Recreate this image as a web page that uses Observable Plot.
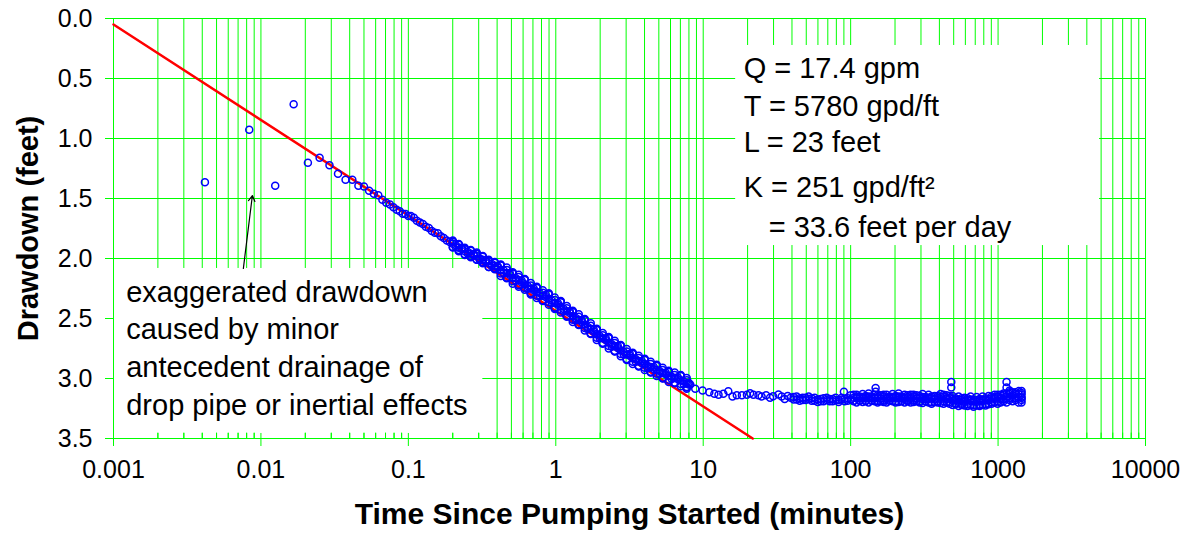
<!DOCTYPE html>
<html><head><meta charset="utf-8">
<script src="https://cdn.jsdelivr.net/npm/d3@7"></script>
<script src="https://cdn.jsdelivr.net/npm/@observablehq/plot@0.6"></script>
<style>body{margin:0;background:#fff;}</style>
</head><body><div id="chart"></div>
<script>
// ---- axis ticks ----
const xTicks = [0.001, 0.01, 0.1, 1, 10, 100, 1000, 10000];
const xTickLabels = ["0.001", "0.01", "0.1", "1", "10", "100", "1000", "10000"];
const yTicks = [0, 0.5, 1, 1.5, 2, 2.5, 3, 3.5];
const yTickLabels = ["0.0", "0.5", "1.0", "1.5", "2.0", "2.5", "3.0", "3.5"];
const gridDecades = [0.001, 0.01, 0.1, 1, 10, 100, 1000];
const gridMultipliers = [1, 2, 3, 4, 5, 6, 7, 8, 9];

// ---- observed drawdown data (minutes, feet) ----
const timeEarly = [0.00417,0.00833,0.0125,0.01667,0.02083,0.025,0.02917,0.03333,0.0375,0.04167,0.04583,0.05,0.05417,0.05833,0.0625,0.06667,0.07083,0.075,0.07917,0.08333,0.0875,0.09167,0.09583,0.1];
const drawEarly = [1.365,0.928,1.394,0.714,1.203,1.161,1.222,1.294,1.344,1.344,1.394,1.400,1.436,1.461,1.472,1.510,1.536,1.550,1.572,1.594,1.606,1.628,1.630,1.645];

const timeBand = [0.1040,0.1090,0.1142,0.1197,0.1254,0.1314,0.1377,0.1443,0.1512,0.1585,0.1661,0.1740,0.1824,0.1911,0.2002,0.2098,0.2199,0.2304,0.2415,0.2530,0.2651,0.2778,0.2911,0.3051,0.3197,0.3350,0.3511,0.3679,0.3855,0.4040,0.4234,0.4437,0.4650,0.4872,0.5106,0.5351,0.5607,0.5876,0.6158,0.6453,0.6768,0.7091,0.7434,0.7790,0.8163,0.8553,0.8963,0.9394,0.9845,1.0317,1.0811,1.1330,1.1873,1.2442,1.3038,1.3663,1.4318,1.5004,1.5723,1.6477,1.7267,1.8094,1.8961,1.9870,2.0822,2.1820,2.2866,2.3962,2.5119,2.6323,2.7584,2.8906,3.0292,3.1744,3.3265,3.4860,3.6530,3.8281,4.0116,4.2038,4.4053,4.6164,4.8376,5.0694,5.3124,5.5670,5.8337,6.1133,6.4063,6.7133,7.0350,7.3722,7.7255,7.975];
const drawBand = [1.645,1.66,1.685,1.70,1.712,1.735,1.745,1.77,1.785,1.79,1.815,1.83,1.85,1.862,1.878,1.89,1.91,1.92,1.94,1.945,1.96,1.975,1.98,2.0,2.01,2.025,2.04,2.045,2.06,2.075,2.094,2.10,2.12,2.135,2.16,2.165,2.18,2.20,2.215,2.23,2.25,2.265,2.28,2.29,2.31,2.32,2.335,2.35,2.37,2.385,2.40,2.42,2.44,2.455,2.48,2.495,2.51,2.53,2.55,2.57,2.585,2.61,2.63,2.645,2.665,2.68,2.70,2.715,2.73,2.745,2.765,2.78,2.80,2.81,2.83,2.84,2.855,2.87,2.88,2.895,2.905,2.92,2.93,2.94,2.955,2.965,2.98,2.985,2.995,3.005,3.015,3.025,3.04,3.05];

const timeBand2 = [0.2002,0.2199,0.2415,0.2651,0.2911,0.3197,0.3511,0.3855,0.4234,0.4650,0.5106,0.5607,0.6158,0.6768,0.7434,0.8163,0.8963,0.9845,1.0811,1.1873,1.3038,1.4318,1.5723,1.7267,1.8961,2.0822,2.2866,2.5119,2.7584,3.0292,3.3265,3.6530,4.0116,4.4053,4.8376,5.3124,5.8337,6.4063,7.0350,7.7255];
const drawBand2 = [1.908,1.885,1.97,1.935,2.01,1.985,2.07,2.035,2.124,2.095,2.19,2.155,2.245,2.225,2.31,2.285,2.365,2.345,2.43,2.415,2.51,2.485,2.58,2.56,2.66,2.64,2.73,2.705,2.795,2.775,2.86,2.83,2.91,2.88,2.96,2.93,3.01,2.97,3.045,3.015];
const drawBand4 = [1.86,1.93,1.92,1.98,1.96,2.03,2.02,2.08,2.054,2.16,2.12,2.22,2.175,2.29,2.24,2.35,2.295,2.41,2.36,2.48,2.44,2.55,2.51,2.625,2.59,2.705,2.66,2.77,2.725,2.84,2.79,2.895,2.84,2.945,2.89,2.995,2.94,3.035,2.975,3.075];
const drawBand5 = [1.905,1.94,1.965,1.99,2.01,2.04,2.07,2.09,2.145,2.165,2.21,2.235,2.26,2.30,2.33,2.355,2.385,2.42,2.45,2.485,2.53,2.555,2.60,2.63,2.68,2.71,2.75,2.775,2.815,2.845,2.88,2.90,2.93,2.95,2.98,3.0,3.03,3.04,3.065,3.085];
const drawBand6 = [1.85,1.88,1.91,1.93,1.95,1.98,2.01,2.03,2.05,2.075,2.115,2.135,2.17,2.205,2.235,2.265,2.29,2.325,2.355,2.395,2.435,2.465,2.505,2.54,2.585,2.62,2.655,2.685,2.72,2.755,2.785,2.81,2.835,2.86,2.885,2.91,2.935,2.95,2.97,2.995];

const timeBand3 = [0.2002,0.2098,0.2199,0.2304,0.2415,0.2530,0.2651,0.2778,0.2911,0.3051,0.3197,0.3350,0.3511,0.3679,0.3855,0.4040,0.4234,0.4437,0.4650,0.4872,0.5106,0.5351,0.5607,0.5876,0.6158,0.6453,0.6768,0.7091,0.7434,0.7790,0.8163,0.8553,0.8963,0.9394,0.9845,1.0317,1.0811,1.1330,1.1873,1.2442,1.3038,1.3663,1.4318,1.5004,1.5723,1.6477,1.7267,1.8094,1.8961,1.9870,2.0822,2.1820,2.2866,2.3962,2.5119,2.6323,2.7584,2.8906,3.0292,3.1744,3.3265,3.4860,3.6530,3.8281,4.0116,4.2038,4.4053,4.6164,4.8376,5.0694,5.3124,5.5670,5.8337,6.1133,6.4063,6.7133,7.0350,7.3722,7.7255,7.975];
const drawBand3 = [1.858,1.905,1.935,1.91,1.92,1.96,1.985,1.965,1.96,2.015,2.035,2.015,2.02,2.06,2.085,2.065,2.059,2.12,2.16,2.12,2.125,2.185,2.22,2.185,2.18,2.25,2.29,2.25,2.245,2.31,2.35,2.305,2.30,2.37,2.41,2.37,2.365,2.44,2.48,2.44,2.445,2.515,2.55,2.515,2.515,2.59,2.625,2.595,2.595,2.665,2.705,2.665,2.665,2.735,2.77,2.73,2.73,2.80,2.84,2.795,2.795,2.86,2.895,2.855,2.845,2.915,2.945,2.905,2.895,2.96,2.995,2.95,2.945,3.005,3.035,2.99,2.98,3.045,3.07,3.035];

const timeTail = [8.17,8.83,9.9,11.0,11.9,12.7,13.7,14.8,15.8,16.9,18.3,19.8,20.8,21.9,23.7,24.9,26.7,28.4,29.8,32.4,34.06,35.69,37.40,39.19,41.07,43.04,45.10,47.27,49.53,51.91,54.39,57.00,59.74,62.60,65.60,68.75,72.04,75.51,79.12,82.91,86.90,91.07,95.43,100];
const drawTail = [3.05,3.086,3.10,3.114,3.128,3.136,3.128,3.106,3.15,3.14,3.14,3.136,3.122,3.136,3.14,3.15,3.14,3.16,3.147,3.133,3.15,3.17,3.145,3.16,3.175,3.15,3.165,3.18,3.16,3.17,3.185,3.16,3.175,3.19,3.165,3.18,3.17,3.19,3.16,3.18,3.175,3.19,3.165,3.14];
const timeTail2 = [41.07,43.04,45.10,47.27,49.53,51.91,54.39,57.00,59.74,62.60,65.60,68.75,72.04,75.51,79.12,82.91,86.90,91.07,95.43,100];
const drawTail2 = [3.155,3.175,3.185,3.16,3.18,3.15,3.165,3.185,3.195,3.17,3.19,3.16,3.19,3.17,3.18,3.195,3.16,3.17,3.185,3.175];

const timeLate = [104.8,109.8,115.1,120.6,126.4,132.4,138.8,145.5,152.4,159.7,167.4,175.4,183.8,192.6,201.9,211.5,221.7,232.3,243.4,255.1,267.3,280.2,293.6,307.6,322.4,337.9,354.1,371.1,388.8,407.5,427.0,447.5,469.0,491.4,515.0,539.7,565.6,592.7,621.1,651.0,682.2,714.9,749.2,785.1,822.8,862.2,903.6,946.9,992.2,1039.7,1089.6,1141.8,1196.7,1254.0,1314.1,1377.2,1443.0];
const drawLateA = [3.16,3.15,3.165,3.155,3.16,3.15,3.165,3.16,3.155,3.165,3.15,3.16,3.165,3.155,3.16,3.15,3.165,3.16,3.155,3.16,3.15,3.165,3.16,3.155,3.17,3.16,3.165,3.17,3.16,3.155,3.15,3.165,3.16,3.17,3.18,3.175,3.18,3.185,3.18,3.175,3.19,3.18,3.185,3.175,3.18,3.17,3.165,3.16,3.15,3.16,3.14,3.15,3.13,3.14,3.13,3.13,3.12];
const drawLateB = [3.19,3.2,3.185,3.195,3.19,3.2,3.185,3.19,3.2,3.19,3.195,3.2,3.185,3.19,3.2,3.195,3.19,3.2,3.19,3.2,3.195,3.19,3.2,3.205,3.19,3.2,3.21,3.195,3.2,3.205,3.21,3.2,3.21,3.22,3.215,3.23,3.22,3.225,3.23,3.22,3.235,3.225,3.23,3.22,3.225,3.215,3.21,3.2,3.21,3.2,3.19,3.2,3.18,3.19,3.18,3.2,3.18];
const drawLateC = [3.185,3.165,3.185,3.165,3.185,3.165,3.185,3.165,3.188,3.168,3.183,3.17,3.185,3.163,3.19,3.163,3.188,3.17,3.183,3.17,3.183,3.168,3.19,3.17,3.19,3.17,3.198,3.173,3.19,3.17,3.19,3.173,3.195,3.185,3.208,3.193,3.21,3.195,3.215,3.188,3.222,3.193,3.218,3.188,3.213,3.183,3.198,3.17,3.19,3.17,3.175,3.165,3.165,3.155,3.165,3.155,3.16];
const drawLateD = [3.135,3.135,3.15,3.13,3.145,3.125,3.15,3.135,3.14,3.14,3.135,3.135,3.15,3.13,3.145,3.125,3.15,3.135,3.14,3.135,3.135,3.14,3.145,3.13,3.155,3.135,3.15,3.145,3.145,3.13,3.135,3.14,3.145,3.145,3.165,3.15,3.165,3.16,3.165,3.15,3.175,3.155,3.17,3.15,3.165,3.145,3.15,3.135,3.135,3.135,3.125,3.125,3.115,3.115,3.115,3.105,3.105];

const timeOut = [90, 147.7, 147.7, 481.6, 481.6, 1141.8, 1141.8, 1196.7, 1443, 1443, 1443];
const drawOut = [3.11, 3.08, 3.11, 3.03, 3.075, 3.03, 3.075, 3.10, 3.135, 3.16, 3.2];

// ---- Cooper-Jacob straight-line fit ----
const fitTime = [0.001, 21.66];
const fitDraw = [0.05, 3.5];

// ---- annotations ----
const noteText = ["exaggerated drawdown\ncaused by minor\nantecedent drainage of\ndrop pipe or inertial effects"];
const noteX = [0.00122];
const noteY = [2.73];
const paramText = ["Q = 17.4 gpm", "T = 5780 gpd/ft", "L = 23 feet", "K = 251 gpd/ft²", "= 33.6 feet per day"];
const paramX = [18.8, 18.8, 18.8, 18.8, 27.8];
const paramY = [0.42, 0.735, 1.035, 1.41, 1.745];
const boxX1 = [0.001, 16.6];
const boxX2 = [0.32, 4877];
const boxY1 = [2.083, 0.225];
const boxY2 = [3.458, 1.892];
const arrowFrom = [0.0076, 2.083];
const arrowTo = [0.00875, 1.475];
const xTitle = "Time Since Pumping Started (minutes)";
const yTitle = "Drawdown (feet)";

// ---- build tables ----
const zip = (ts, ds) => ts.map((t, i) => ({t, d: ds[i]}));
const points = [
  ...zip(timeEarly, drawEarly),
  ...zip(timeBand, drawBand),
  ...zip(timeBand2, drawBand2),
  ...zip(timeBand3, drawBand3),
  ...zip(timeBand2, drawBand4),
  ...zip(timeBand2, drawBand5),
  ...zip(timeBand2, drawBand6),
  ...zip(timeTail, drawTail),
  ...zip(timeTail2, drawTail2),
  ...zip(timeLate, drawLateA),
  ...zip(timeLate, drawLateB),
  ...zip(timeLate, drawLateC),
  ...zip(timeLate, drawLateD),
  ...zip(timeOut, drawOut)
];
const fit = zip(fitTime, fitDraw);
const gridX = gridDecades.flatMap(d => gridMultipliers.map(m => d * m)).concat([10000]);
const minorX = gridX.filter(v => !xTicks.includes(v));
const boxes = boxX1.map((x1, i) => ({x1, x2: boxX2[i], y1: boxY1[i], y2: boxY2[i]}));
const xLab = new Map(xTicks.map((v, i) => [v, xTickLabels[i]]));
const yLab = new Map(yTicks.map((v, i) => [v, yTickLabels[i]]));
const FONT = '"Liberation Sans", Arial, Helvetica, sans-serif';

const chart = Plot.plot({
  width: 1188, height: 541,
  marginLeft: 113, marginRight: 43, marginTop: 18, marginBottom: 103,
  style: {fontFamily: FONT, fontSize: "25px", background: "white", color: "black"},
  x: {type: "log", domain: [0.001, 10000], axis: null},
  y: {domain: [0, 3.5], reverse: true, axis: null},
  marks: [
    Plot.ruleX(gridX, {stroke: "#00ff00", strokeWidth: 1}),
    Plot.ruleY(yTicks, {stroke: "#00ff00", strokeWidth: 1}),
    Plot.rect(boxes, {x1: "x1", x2: "x2", y1: "y1", y2: "y2", fill: "white"}),
    Plot.ruleX(minorX, {y1: 3.5, y2: 3.455, stroke: "#00ff00"}),
    Plot.frame({stroke: "#00ff00", strokeWidth: 1}),
    Plot.axisX(xTicks, {tickSize: 8, tickPadding: 14, tickFormat: d => xLab.get(d), stroke: "#00ff00", fill: "black", fontSize: 25, label: null}),
    Plot.axisY(yTicks, {tickSize: 8, tickPadding: 13, tickFormat: d => yLab.get(d), stroke: "#00ff00", fill: "black", fontSize: 25, label: null}),
    Plot.line(fit, {x: "t", y: "d", stroke: "#ff0000", strokeWidth: 2.5}),
    Plot.dot(points, {x: "t", y: "d", r: 3.5, stroke: "#0000ff", strokeWidth: 1.5, fill: "none"}),
    Plot.text(noteText, {x: noteX, y: noteY, text: d => d, textAnchor: "start", lineAnchor: "middle", lineHeight: 1.3, fontSize: 29, fill: "black"}),
    Plot.text(paramText, {x: paramX, y: paramY, text: d => d, textAnchor: "start", lineAnchor: "middle", fontSize: 29, fill: "black"}),
    Plot.arrow([0], {x1: arrowFrom[0], y1: arrowFrom[1], x2: arrowTo[0], y2: arrowTo[1], stroke: "black", strokeWidth: 1.2, headLength: 8}),
    Plot.text([xTitle], {frameAnchor: "bottom", dy: 85, text: d => d, fontWeight: "bold", fontSize: 30, fill: "black"}),
    Plot.text([yTitle], {frameAnchor: "left", dx: -85, rotate: -90, textAnchor: "middle", text: d => d, fontWeight: "bold", fontSize: 29, fill: "black"})
  ]
});
document.getElementById("chart").appendChild(chart);
</script>
</body></html>
